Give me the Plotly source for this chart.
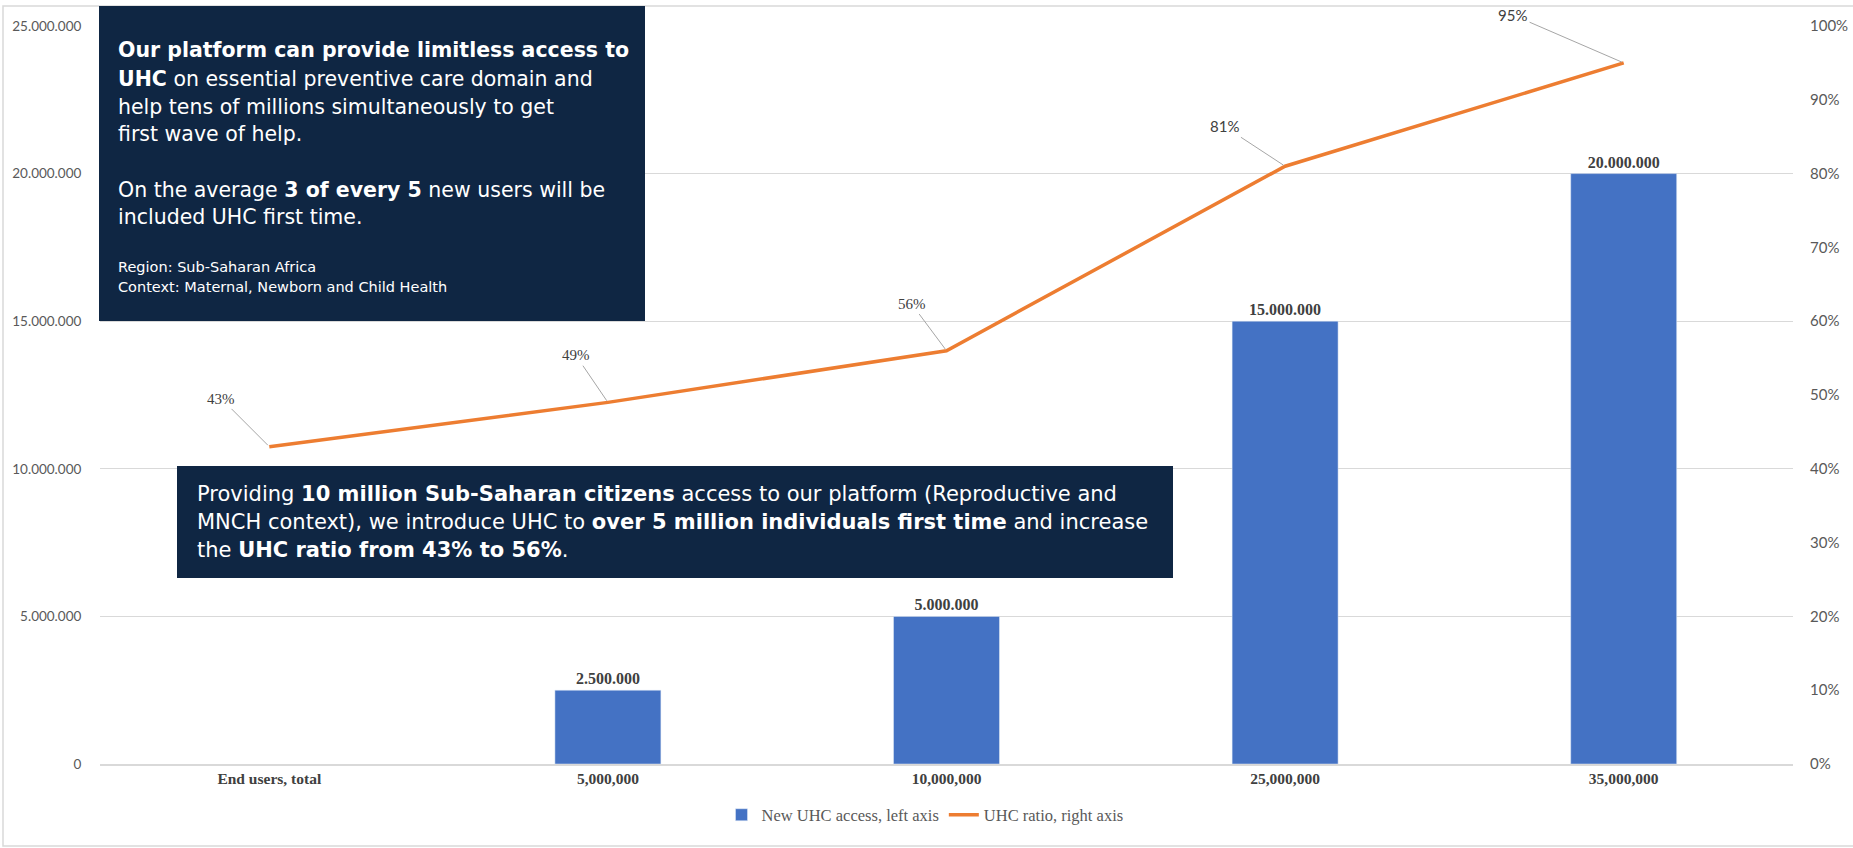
import plotly.graph_objects as go

# ---- data ----
categories = ["End users, total", "5,000,000", "10,000,000", "25,000,000", "35,000,000"]
new_uhc_access = [None, 2500000, 5000000, 15000000, 20000000]
uhc_ratio = [0.43, 0.49, 0.56, 0.81, 0.95]
ratio_labels = ["43%", "49%", "56%", "81%", "95%"]

W, H = 1853, 848
ML, MR, MT, MB = 100, 60, 26, 84
PW, PH = W - ML - MR, H - MT - MB


def px(x):
    return (x - ML) / PW


def py(y):
    return (H - MB - y) / PH


BLUE = "#4472C4"
ORANGE = "#ED7D31"
NAVY = "#0F2643"
SERIF = "Liberation Serif"
SANS = "Lato"
BOXFONT = "DejaVu Sans"

fig = go.Figure()
fig.add_trace(go.Bar(
    x=categories, y=new_uhc_access, name="New UHC access, left axis",
    marker_color=BLUE, width=0.313,
    texttemplate="<b>%{y:,.0f}</b>", textposition="outside",
    textfont=dict(family=SERIF, size=16, color="#404040"),
    cliponaxis=False,
))
fig.add_trace(go.Scatter(
    x=categories, y=uhc_ratio, name="UHC ratio, right axis", yaxis="y2",
    mode="lines", line=dict(color=ORANGE, width=3.5),
))

# data labels with leader lines
offsets = [(-48, -48), (-32, -47), (-35, -47), (-61, -40), (-111, -48)]
fonts = [SERIF, SERIF, SERIF, SANS, SANS]
for c, v, lab, (ax, ay), f in zip(categories, uhc_ratio, ratio_labels, offsets, fonts):
    fig.add_annotation(
        x=c, y=v, yref="y2", text=lab, showarrow=True, arrowhead=0,
        arrowwidth=1, arrowcolor="#A6A6A6", ax=ax, ay=ay,
        font=dict(family=f, size=15, color="#404040"), standoff=2, startstandoff=1,
    )

shapes = []
# outer frame
shapes.append(dict(type="rect", xref="paper", yref="paper",
                   x0=px(3), x1=px(1900), y0=py(846), y1=py(6),
                   line=dict(color="#D9D9D9", width=1.5), layer="below"))
# text boxes
shapes.append(dict(type="rect", xref="paper", yref="paper",
                   x0=px(99), x1=px(645), y0=py(321), y1=py(6),
                   fillcolor=NAVY, line=dict(width=0), layer="above"))
shapes.append(dict(type="rect", xref="paper", yref="paper",
                   x0=px(177), x1=px(1173), y0=py(578), y1=py(466),
                   fillcolor=NAVY, line=dict(width=0), layer="above"))

box1_lines = [
    ("<b>Our platform can provide limitless access to</b>", 50, 20.5),
    ("<b>UHC</b> on essential preventive care domain and", 79, 20.5),
    ("help tens of millions simultaneously to get", 106.5, 20.5),
    ("first wave of help.", 134, 20.5),
    ("On the average <b>3 of every 5</b> new users will be", 189.5, 20.5),
    ("included UHC first time.", 217, 20.5),
    ("Region: Sub-Saharan Africa", 267, 14.5),
    ("Context: Maternal, Newborn and Child Health", 287, 14.5),
]
box2_lines = [
    ("Providing <b>10 million Sub-Saharan citizens</b> access to our platform (Reproductive and", 494),
    ("MNCH context), we introduce UHC to <b>over 5 million individuals first time</b> and increase", 521.5),
    ("the <b>UHC ratio from 43% to 56%</b>.", 549.5),
]

for txt, yy, sz in box1_lines:
    fig.add_annotation(xref="paper", yref="paper", x=px(116), y=py(yy), xanchor="left",
                       yanchor="middle", align="left", showarrow=False, text=txt,
                       font=dict(family=BOXFONT, size=sz, color="white"))
for txt, yy in box2_lines:
    fig.add_annotation(xref="paper", yref="paper", x=px(195), y=py(yy), xanchor="left",
                       yanchor="middle", align="left", showarrow=False, text=txt,
                       font=dict(family=BOXFONT, size=21, color="white"))

fig.update_layout(
    width=W, height=H,
    margin=dict(l=ML, r=MR, t=MT, b=MB, autoexpand=False),
    paper_bgcolor="white", plot_bgcolor="white",
    separators=",.",
    showlegend=True,
    legend=dict(orientation="h", x=px(925), xanchor="center", y=py(815), yanchor="middle",
                font=dict(family=SERIF, size=16.5, color="#595959"), traceorder="normal"),
    xaxis=dict(tickfont=dict(family=SERIF, size=15.5, color="#404040"),
               showline=True, linecolor="#D9D9D9", linewidth=1.5, ticks="",
               tickprefix="<b>", ticksuffix="</b>"),
    yaxis=dict(range=[0, 25000000], dtick=5000000, tickformat=",.0f",
               showgrid=True, gridcolor="#D9D9D9", gridwidth=1, zeroline=False,
               tickfont=dict(family=SANS, size=13.5, color="#595959"),
               ticks="outside", ticklen=15, tickcolor="rgba(0,0,0,0)"),
    yaxis2=dict(range=[0, 1.0], dtick=0.1, tickformat=".0%", overlaying="y", side="right",
                showgrid=False, zeroline=False,
                tickfont=dict(family=SANS, size=15, color="#595959"),
                ticks="outside", ticklen=13, tickcolor="rgba(0,0,0,0)"),
    shapes=shapes,
)

fig.write_html("out.html", config={"displayModeBar": False},
               post_script="document.body.style.margin='0';")
